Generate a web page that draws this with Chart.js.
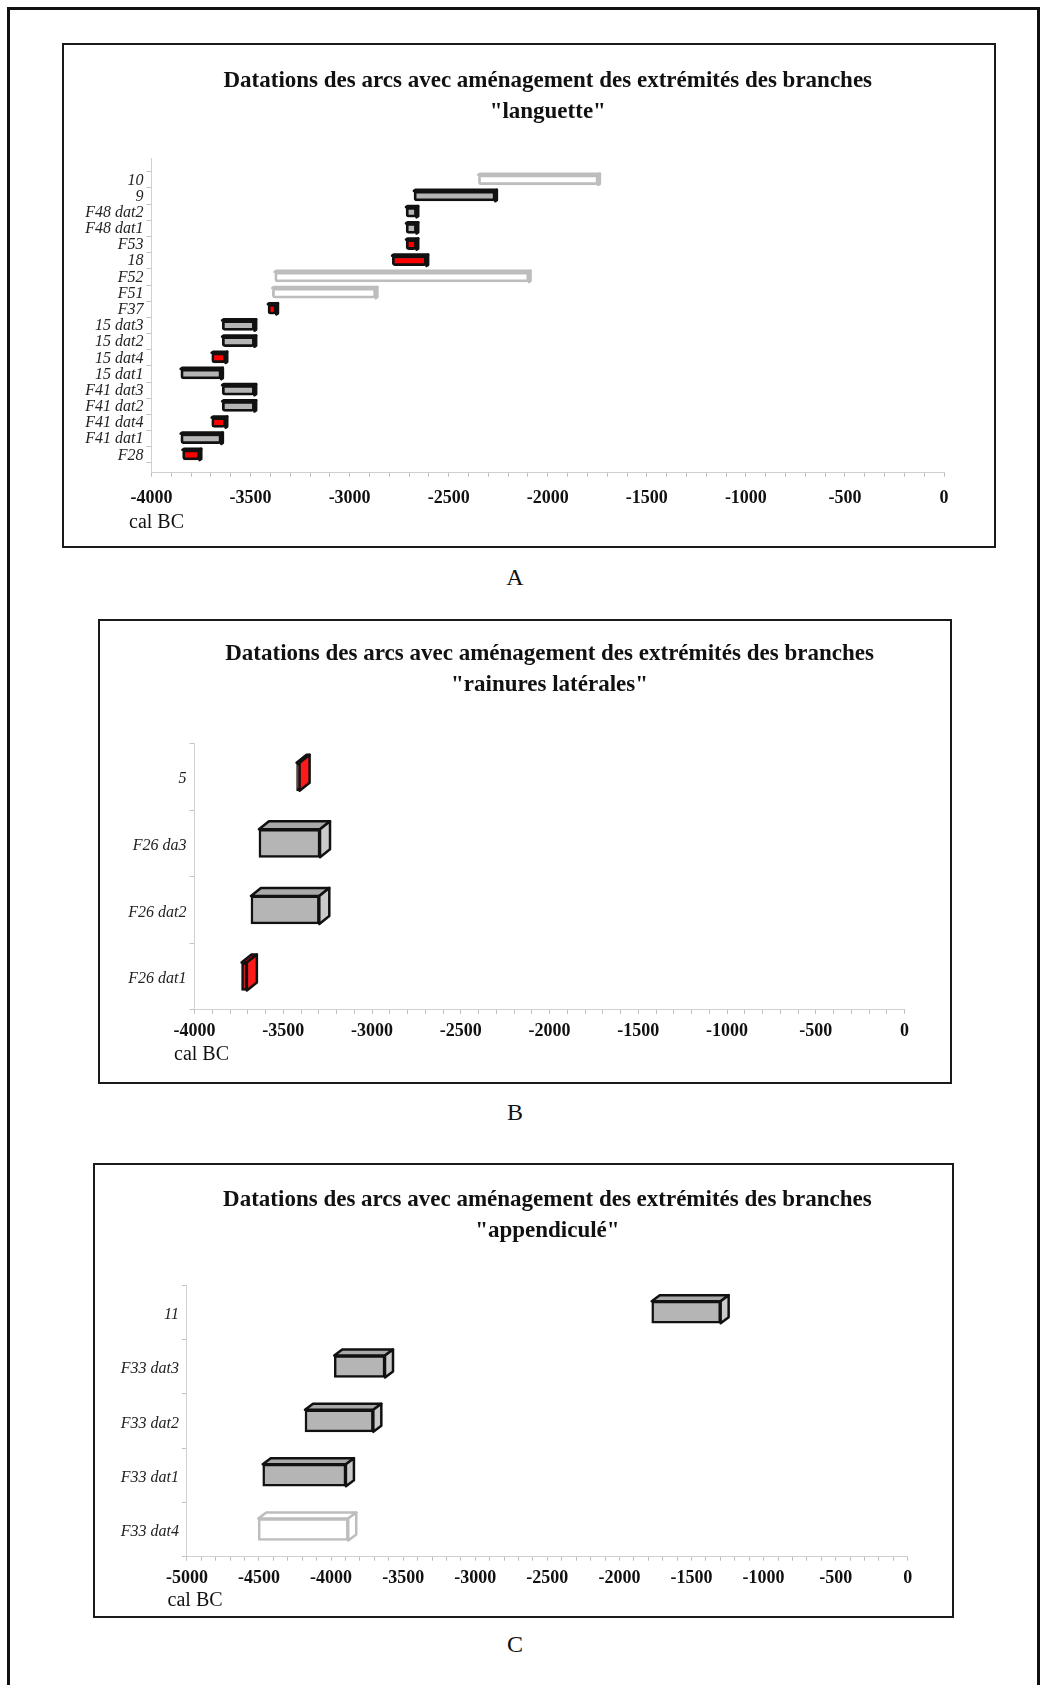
<!DOCTYPE html>
<html lang="fr">
<head>
<meta charset="utf-8">
<title>Datations des arcs</title>
<script src="https://cdn.jsdelivr.net/npm/chart.js@4.4.1/dist/chart.umd.min.js"></script>
<style>
  html, body { margin: 0; padding: 0; background: #fff; }
  body { width: 1041px; height: 1685px; position: relative; overflow: hidden; font-family: 'Liberation Serif', 'Times New Roman', serif; }
  .frame { position: absolute; left: 7px; top: 7px; width: 1033px; height: 1740px; border: 3px solid #111; box-sizing: border-box; }
  .panel { position: absolute; border: 2px solid #1a1a1a; box-sizing: border-box; background: #fff; }
  .panel canvas { display: block; }
  .letter { position: absolute; width: 60px; margin-left: -30px; text-align: center; font-size: 24px; line-height: 1; color: #111; }
</style>
</head>
<body>
<div class="frame"></div>

<div class="panel" style="left:62px;top:43px;width:934px;height:505px;"><canvas id="chartA" width="930" height="501"></canvas></div>
<div class="letter" style="left:515px;top:565px;">A</div>

<div class="panel" style="left:98px;top:619px;width:854px;height:465px;"><canvas id="chartB" width="850" height="461"></canvas></div>
<div class="letter" style="left:515px;top:1100px;">B</div>

<div class="panel" style="left:93px;top:1163px;width:861px;height:455px;"><canvas id="chartC" width="857" height="451"></canvas></div>
<div class="letter" style="left:515px;top:1632px;">C</div>

<script>
// dates cal BC, [debut, fin]
const labelsA = ['10', '9', 'F48 dat2', 'F48 dat1', 'F53', '18', 'F52', 'F51', 'F37',
  '15 dat3', '15 dat2', '15 dat4', '15 dat1', 'F41 dat3', 'F41 dat2', 'F41 dat4', 'F41 dat1', 'F28'];
const greyA = [null, [-2675, -2265], [-2715, -2662], [-2715, -2662], null, null, null, null, null,
  [-3643, -3480], [-3643, -3480], null, [-3852, -3648], [-3643, -3480], [-3643, -3480], null, [-3852, -3648], null];
const redA = [null, null, null, null, [-2715, -2662], [-2785, -2612], null, null, [-3412, -3370],
  null, null, [-3696, -3626], null, null, null, [-3696, -3626], null, [-3843, -3757]];
const openA = [[-2350, -1745], null, null, null, null, null, [-3378, -2095], [-3390, -2868], null,
  null, null, null, null, null, null, null, null, null];

const labelsB = ['5', 'F26 da3', 'F26 dat2', 'F26 dat1'];
const greyB = [null, [-3637, -3293], [-3682, -3297], null];
const redB = [[-3425, -3408], null, null, [-3735, -3705]];

const labelsC = ['11', 'F33 dat3', 'F33 dat2', 'F33 dat1', 'F33 dat4'];
const greyC = [[-1776, -1298], [-3978, -3626], [-4181, -3707], [-4474, -3897], null];
const openC = [null, null, null, null, [-4505, -3881]];

const xTicksA = [-4000, 0];
const xTicksC = [-5000, 0];

const SERIF = "'Liberation Serif', 'Times New Roman', serif";
const TITLE1 = 'Datations des arcs avec aménagement des extrémités des branches';

// faces du dessus et de cote pour l'effet 3D
const depthPlugin = {
  id: 'depth3d',
  afterDatasetsDraw(chart, args, opts) {
    const ctx = chart.ctx;
    chart.data.datasets.forEach((ds, i) => {
      const meta = chart.getDatasetMeta(i);
      meta.data.forEach((bar, j) => {
        if (ds.data[j] == null) return;
        const p = bar.getProps(['x', 'y', 'base', 'height'], true);
        const l = Math.min(p.x, p.base), r = Math.max(p.x, p.base);
        const t = p.y - p.height / 2, b = p.y + p.height / 2;
        const dx = opts.dx, dy = opts.dy;
        ctx.save();
        ctx.lineJoin = 'round';
        ctx.lineWidth = ds.borderWidth;
        ctx.strokeStyle = ds.borderColor;
        ctx.beginPath();
        ctx.moveTo(l, t); ctx.lineTo(l + dx, t - dy); ctx.lineTo(r + dx, t - dy); ctx.lineTo(r, t);
        ctx.closePath();
        ctx.fillStyle = ds.topColor; ctx.fill(); ctx.stroke();
        ctx.beginPath();
        ctx.moveTo(r, t); ctx.lineTo(r + dx, t - dy); ctx.lineTo(r + dx, b - dy); ctx.lineTo(r, b);
        ctx.closePath();
        ctx.fillStyle = ds.sideColor; ctx.fill(); ctx.stroke();
        ctx.restore();
      });
    });
  }
};

const unitPlugin = {
  id: 'unitLabel',
  afterDraw(chart, args, opts) {
    const ctx = chart.ctx, a = chart.chartArea;
    ctx.save();
    ctx.font = '20px ' + SERIF;
    ctx.fillStyle = '#111';
    ctx.textAlign = 'left';
    ctx.textBaseline = 'middle';
    ctx.fillText('cal BC', a.left + opts.dx, a.bottom + opts.dy);
    ctx.restore();
  }
};

const styles = {
  grey: { fill: '#b5b5b5', stroke: '#111', top: '#a9a9a9', side: '#cacaca' },
  red: { fill: '#ff0000', stroke: '#111', top: '#e60000', side: '#ff1a1a' },
  open: { fill: '#ffffff', stroke: '#bdbdbd', top: '#ffffff', side: '#ffffff' }
};

function drawPanel(id, labels, series, range, cfg) {
  const ctx = document.getElementById(id).getContext('2d');
  return new Chart(ctx, {
    type: 'bar',
    data: {
      labels: labels,
      datasets: series.map(s => ({
        data: s.data,
        backgroundColor: styles[s.kind].fill,
        borderColor: styles[s.kind].stroke,
        topColor: styles[s.kind].top,
        sideColor: styles[s.kind].side,
        borderWidth: cfg.bw,
        borderSkipped: false,
        borderRadius: cfg.radius,
        grouped: false,
        barThickness: cfg.thick
      }))
    },
    options: {
      indexAxis: 'y',
      responsive: false,
      animation: false,
      layout: { padding: { left: 0, right: cfg.padRight, top: 0, bottom: 0 } },
      plugins: {
        legend: { display: false },
        tooltip: { enabled: false },
        title: {
          display: true,
          fullSize: false,
          text: [TITLE1, cfg.subtitle],
          color: '#111',
          font: { family: SERIF, size: 23, weight: 'bold', lineHeight: 31 / 23 },
          padding: { top: cfg.titleTop, bottom: cfg.titleBottom }
        },
        depth3d: { dx: cfg.dx, dy: cfg.dy },
        unitLabel: { dx: cfg.unitDx, dy: cfg.unitDy }
      },
      scales: {
        x: {
          type: 'linear',
          min: range[0],
          max: range[1],
          afterFit: s => { s.height = cfg.xHeight; },
          border: { color: '#d0d0d0', width: 1 },
          grid: { drawOnChartArea: false, tickLength: 4, color: '#bdbdbd' },
          ticks: {
            stepSize: 100,
            autoSkip: false,
            maxRotation: 0,
            padding: cfg.tickPad,
            color: '#111',
            font: { family: SERIF, size: 18, weight: 'bold' },
            callback: v => (v % 500 === 0 ? String(v) : '')
          }
        },
        y: {
          afterFit: s => { s.width = cfg.yWidth; },
          afterBuildTicks: s => {
            s._startValue -= cfg.padTopRows;
            s._valueRange += cfg.padTopRows + cfg.padBottomRows;
          },
          border: { color: '#d0d0d0', width: 1 },
          grid: { drawOnChartArea: false, tickLength: 5, color: '#c4c4c4' },
          ticks: {
            autoSkip: false,
            padding: 3,
            labelOffset: cfg.labelShift,
            color: '#222',
            font: { family: SERIF, size: 16, style: 'italic' }
          }
        }
      }
    },
    plugins: [depthPlugin, unitPlugin]
  });
}

drawPanel('chartA', labelsA,
  [{ kind: 'open', data: openA }, { kind: 'grey', data: greyA }, { kind: 'red', data: redA }],
  xTicksA,
  { subtitle: '"languette"', bw: 2.8, radius: 3, thick: 10, dx: 1.5, dy: 1,
    padRight: 50, yWidth: 87.5, titleTop: 21, titleBottom: 30, xHeight: 73.3, tickPad: 10.5,
    padTopRows: 0.85, padBottomRows: 0.6, unitDx: -22.5, unitDy: 50.3, labelShift: 0.5 });

drawPanel('chartB', labelsB,
  [{ kind: 'grey', data: greyB }, { kind: 'red', data: redB }],
  xTicksA,
  { subtitle: '"rainures latérales"', bw: 2.5, radius: 0, thick: 28, dx: 10, dy: 8,
    padRight: 45.4, yWidth: 94.5, titleTop: 17.5, titleBottom: 42.9, xHeight: 72.2, tickPad: 6.4,
    padTopRows: 0, padBottomRows: 0, unitDx: -20.5, unitDy: 45.2, labelShift: 2.5 });

drawPanel('chartC', labelsC,
  [{ kind: 'open', data: openC }, { kind: 'grey', data: greyC }],
  xTicksC,
  { subtitle: '"appendiculé"', bw: 2.5, radius: 0, thick: 22, dx: 8, dy: 6,
    padRight: 44.2, yWidth: 91.9, titleTop: 19.3, titleBottom: 38.7, xHeight: 59.3, tickPad: 6.5,
    padTopRows: 0, padBottomRows: 0, unitDx: -19.3, unitDy: 43.9, labelShift: 2.5 });
</script>
</body>
</html>
